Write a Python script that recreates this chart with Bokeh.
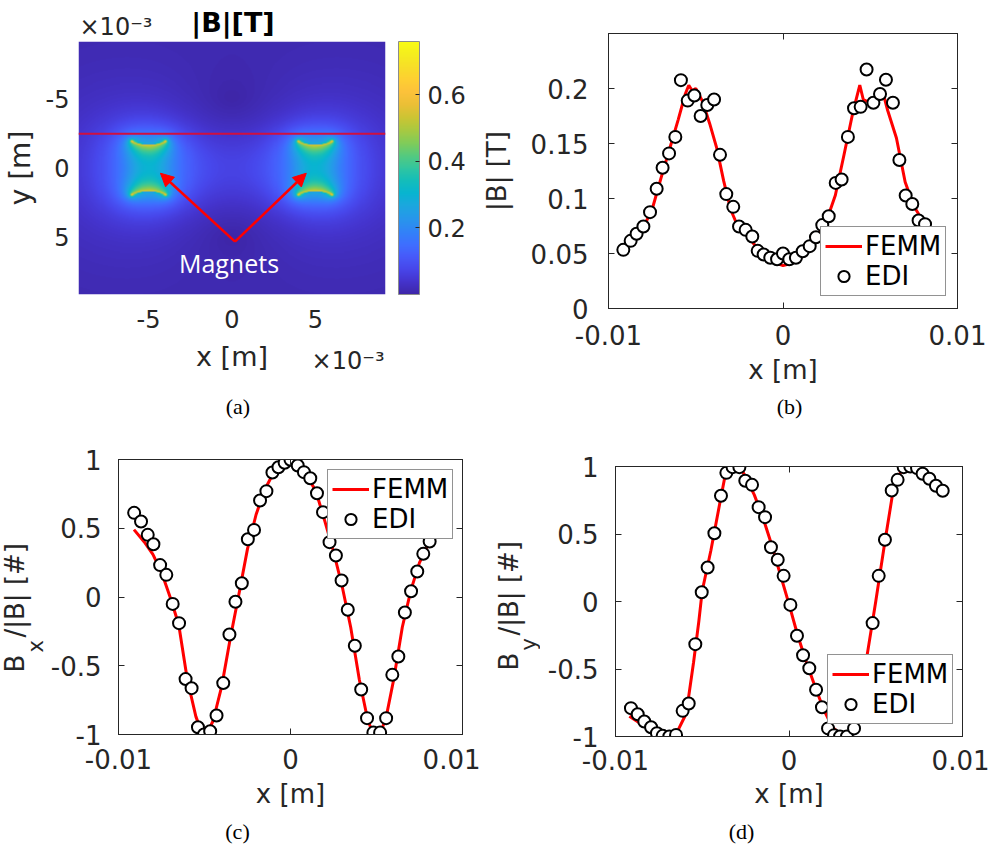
import numpy as np
from bokeh.plotting import figure
from bokeh.models import (Range1d, FixedTicker, LinearAxis, Legend, LegendItem, Label,
                          ColorBar, LinearColorMapper, Arrow, NormalHead)
from bokeh.layouts import row, column
from bokeh.embed import file_html
from bokeh.resources import INLINE
from bokeh.core.properties import value

SANS = "DejaVu Sans"
SERIF = "Liberation Serif"
INK = "#262626"
RED = "#ff0000"
BASE_SHIFT = 0.3   # the SVG text sits about 0.3 em below its anchor; compensate

# ---------------- panel (a): magnet geometry [mm] ----------------
magnet_x_start = [-6.0, 4.0]
magnet_x_end = [-4.0, 6.0]
pole_face_y = [-1.95, 1.95]
pole_face_bulge = 0.25
scan_line_y = -2.5
heat_extent = [-9.2, 9.2]
colorbar_max = 0.76
a_ticks = [-5, 0, 5]
a_tick_labels = ["-5", "0", "5"]
cbar_ticks = [0.2, 0.4, 0.6]
cbar_tick_labels = ["0.2", "0.4", "0.6"]
arrow_tail = (0.18, 5.36)
arrow_heads_x = [-4.29, 4.45]
arrow_heads_y = [0.38, 0.38]

# ---------------- panel (b): |B| [T] ----------------
b_edi_x = [-0.00915, -0.00873, -0.00839, -0.0080, -0.00762, -0.00724, -0.0069, -0.00653,
           -0.00617, -0.00585, -0.00546, -0.00508, -0.00472, -0.00434, -0.00395, -0.00361,
           -0.00325, -0.00285, -0.00252, -0.00214, -0.00176, -0.00145, -0.00111, -0.00073,
           -0.00034, 0.0, 0.00036, 0.00074, 0.00113, 0.00153, 0.00189, 0.00225, 0.00262,
           0.00302, 0.00336, 0.00372, 0.00407, 0.00445, 0.00479, 0.00518, 0.00556, 0.0059,
           0.0063, 0.00667, 0.00703, 0.00741, 0.00777, 0.00814]
b_edi_y = [0.0533, 0.0615, 0.0679, 0.0745, 0.0876, 0.1088, 0.128, 0.141, 0.156, 0.2076,
           0.189, 0.1936, 0.175, 0.185, 0.190, 0.1397, 0.104, 0.0924, 0.0745, 0.0715, 0.0655,
           0.0524, 0.0491, 0.0461, 0.0448, 0.050, 0.0448, 0.0461, 0.0521, 0.0567, 0.0648,
           0.0758, 0.0839, 0.1142, 0.1173, 0.156, 0.182, 0.1833, 0.2173, 0.187, 0.195, 0.208,
           0.187, 0.135, 0.1027, 0.095, 0.080, 0.0767]
b_femm_x = [-0.0092, -0.0085, -0.008, -0.0075, -0.007, -0.0065, -0.006, -0.0056, -0.0054,
            -0.0052, -0.005, -0.0046, -0.0042, -0.0038, -0.0034, -0.003, -0.0026, -0.002,
            -0.0015, -0.001, -0.0005, 0.0, 0.0005, 0.001, 0.0015, 0.002, 0.0025, 0.003,
            0.0035, 0.004, 0.0044, 0.0046, 0.005, 0.0055, 0.0058, 0.006, 0.0065, 0.007,
            0.0075, 0.008, 0.0088]
b_femm_y = [0.052, 0.064, 0.074, 0.09, 0.118, 0.145, 0.172, 0.195, 0.203, 0.198, 0.2,
            0.188, 0.168, 0.146, 0.116, 0.09, 0.075, 0.066, 0.055, 0.047, 0.042, 0.039,
            0.041, 0.046, 0.055, 0.066, 0.08, 0.103, 0.14, 0.178, 0.203, 0.19, 0.187, 0.195,
            0.192, 0.18, 0.155, 0.115, 0.093, 0.08, 0.068]

# ---------------- panel (c): Bx/|B| ----------------
c_edi_x = [-0.00909, -0.00869, -0.0083, -0.00797, -0.00758, -0.00722, -0.00685, -0.00648,
           -0.0061, -0.00575, -0.00538, -0.00503, -0.00467, -0.0043, -0.00391, -0.00355,
           -0.0032, -0.00283, -0.00248, -0.00212, -0.00177, -0.0014, -0.00105, -0.0007,
           -0.00034, 0.0, 0.00042, 0.00078, 0.00115, 0.00154, 0.00189, 0.00227, 0.00264,
           0.00297, 0.00333, 0.00374, 0.00411, 0.00445, 0.00482, 0.00521, 0.00556, 0.00592,
           0.00627, 0.00665, 0.00701, 0.00737, 0.00772, 0.00809, 0.00845]
c_edi_y = [0.612, 0.549, 0.452, 0.384, 0.232, 0.161, -0.05, -0.19, -0.597, -0.663, -0.947,
           -1.0, -0.976, -0.862, -0.626, -0.273, -0.035, 0.1, 0.42, 0.488, 0.702, 0.77,
           0.905, 0.944, 0.976, 0.998, 0.956, 0.908, 0.864, 0.755, 0.617, 0.399, 0.302,
           0.12, -0.093, -0.355, -0.673, -0.881, -0.986, -0.986, -0.881, -0.566, -0.433,
           -0.113, 0.042, 0.185, 0.314, 0.404, 0.49]
c_femm_x = [-0.0091, -0.0085, -0.008, -0.0075, -0.007, -0.0065, -0.006, -0.0055, -0.0052,
            -0.005, -0.0048, -0.0045, -0.004, -0.0035, -0.003, -0.0025, -0.002, -0.0015,
            -0.001, -0.0005, 0.0, 0.0005, 0.001, 0.0015, 0.002, 0.0025, 0.003, 0.0035,
            0.004, 0.0045, 0.0048, 0.005, 0.0053, 0.0056, 0.006, 0.0065, 0.007, 0.0075,
            0.008, 0.0085, 0.009]
c_femm_y = [0.49, 0.40, 0.31, 0.18, 0.0, -0.2, -0.6, -0.87, -0.97, -1.0, -0.98, -0.9, -0.65,
            -0.3, 0.02, 0.35, 0.6, 0.78, 0.9, 0.97, 1.0, 0.96, 0.88, 0.76, 0.55, 0.33, 0.08,
            -0.22, -0.6, -0.9, -0.99, -1.0, -0.97, -0.85, -0.6, -0.22, 0.05, 0.25, 0.38,
            0.5, 0.58]

# ---------------- panel (d): By/|B| ----------------
d_edi_x = [-0.00911, -0.00872, -0.00834, -0.00795, -0.00761, -0.00728, -0.0069, -0.00651,
           -0.00613, -0.00578, -0.0054, -0.00503, -0.00469, -0.0043, -0.00392, -0.00361,
           -0.00325, -0.00286, -0.00252, -0.00213, -0.00175, -0.00138, -0.00104, -0.00065,
           -0.00031, 0.00008, 0.00046, 0.00081, 0.00117, 0.00156, 0.0019, 0.00225, 0.0026,
           0.00294, 0.00334, 0.00375, 0.0041, 0.00444, 0.00482, 0.00517, 0.00553, 0.00592,
           0.00626, 0.00661, 0.00699, 0.00738, 0.0077, 0.00809, 0.00847, 0.00886]
d_edi_y = [-0.79, -0.835, -0.889, -0.931, -0.975, -0.995, -1.0, -0.988, -0.81, -0.756,
           -0.316, 0.069, 0.252, 0.506, 0.783, 0.953, 0.995, 0.995, 0.894, 0.864, 0.699,
           0.625, 0.402, 0.309, 0.19, -0.025, -0.254, -0.398, -0.494, -0.654, -0.783, -0.94,
           -0.99, -1.0, -1.0, -0.94, -0.72, -0.457, -0.16, 0.19, 0.457, 0.822, 0.901, 0.995,
           1.0, 0.988, 0.946, 0.909, 0.857, 0.82]
d_femm_x = [-0.0092, -0.0085, -0.008, -0.0075, -0.007, -0.0065, -0.006, -0.0058, -0.0055,
            -0.0052, -0.005, -0.0045, -0.004, -0.0037, -0.0034, -0.003, -0.0027, -0.0025,
            -0.002, -0.0015, -0.001, -0.0005, 0.0, 0.0005, 0.001, 0.0015, 0.002, 0.0025,
            0.003, 0.0033, 0.0036, 0.004, 0.0043, 0.0045, 0.005, 0.0055, 0.006, 0.0063,
            0.0066, 0.007, 0.0075, 0.008, 0.0085, 0.009]
d_femm_y = [-0.85, -0.91, -0.95, -0.99, -1.0, -0.98, -0.85, -0.72, -0.45, -0.15, 0.08, 0.38,
            0.72, 0.92, 0.99, 1.0, 0.97, 0.92, 0.79, 0.62, 0.42, 0.2, -0.02, -0.25, -0.45,
            -0.63, -0.8, -0.93, -0.99, -1.0, -0.97, -0.8, -0.55, -0.4, 0.0, 0.42, 0.82, 0.93,
            0.99, 1.0, 0.97, 0.92, 0.87, 0.81]

# ---------------- shared ticks ----------------
x_ticks = [-0.01, 0.0, 0.01]
x_tick_labels = ["-0.01", "0", "0.01"]
b_y_ticks = [0.0, 0.05, 0.1, 0.15, 0.2]
b_y_tick_labels = ["0", "0.05", "0.1", "0.15", "0.2"]
n_y_ticks = [-1.0, -0.5, 0.0, 0.5, 1.0]
n_y_tick_labels = ["-1", "-0.5", "0", "0.5", "1"]

# ---------------- parula-like palette ----------------
parula_rgb = np.array([
    [0.2422, 0.1504, 0.6603], [0.2681, 0.2036, 0.8052], [0.2803, 0.2782, 0.9221],
    [0.2760, 0.3580, 0.9810], [0.2440, 0.4358, 0.9988], [0.1950, 0.5140, 0.9700],
    [0.1540, 0.5902, 0.9218], [0.1100, 0.6540, 0.8750], [0.0297, 0.7082, 0.8163],
    [0.0800, 0.7440, 0.7250], [0.1938, 0.7758, 0.6251], [0.3300, 0.7900, 0.5000],
    [0.5044, 0.7993, 0.3480], [0.6600, 0.7880, 0.2550], [0.8000, 0.7700, 0.2000],
    [0.9200, 0.7500, 0.2100], [0.9892, 0.7600, 0.2300], [0.9950, 0.8100, 0.2000],
    [0.9700, 0.8700, 0.1600], [0.9600, 0.9300, 0.1200], [0.9769, 0.9839, 0.0805]])
parula_pos = np.linspace(0, 1, len(parula_rgb))
_t = np.linspace(0, 1, 256)
palette = ["#%02x%02x%02x" % tuple(int(round(255 * np.interp(ti, parula_pos, parula_rgb[:, c])))
                                   for c in range(3)) for ti in _t]

# ---------------- field map for panel (a) (magnetic pole-sheet model) ----------------
gx = np.linspace(heat_extent[0], heat_extent[1], 300)
gy = np.linspace(heat_extent[0], heat_extent[1], 250)
X, Y = np.meshgrid(gx, gy)
Hx = np.zeros_like(X)
Hy = np.zeros_like(X)
inside = np.zeros_like(X)
dmin = np.full_like(X, 99.0)
sigma, eps, k_in, k_line, soft = 0.80, 0.05, 0.03, 0.17, 0.3
for x0, x1 in zip(magnet_x_start, magnet_x_end):
    s = np.linspace(x0, x1, 81)
    ds = s[1] - s[0]
    u = (s - 0.5 * (x0 + x1)) / (0.5 * (x1 - x0))
    for fy, sgn in ((pole_face_y[0], -1.0), (pole_face_y[1], 1.0)):
        sy = fy - sgn * pole_face_bulge * (1 - u ** 2)
        for sxi, syi in zip(s, sy):
            dx = X - sxi
            dy = Y - syi
            r2 = dx * dx + dy * dy + eps * eps
            Hx += sgn * sigma * ds * dx / r2 / (2 * np.pi)
            Hy += sgn * sigma * ds * dy / r2 / (2 * np.pi)
            dmin = np.minimum(dmin, np.sqrt(dx * dx + dy * dy))
    inside += (1 / (1 + np.exp(-(X - x0) / soft))) * (1 / (1 + np.exp((X - x1) / soft))) * \
              (1 / (1 + np.exp(-(Y - pole_face_y[0]) / soft))) * \
              (1 / (1 + np.exp((Y - pole_face_y[1]) / soft)))
Bmag = np.hypot(Hx, Hy) + k_in * inside + k_line * np.exp(-(dmin / 0.09) ** 2)
Bmag = np.clip(Bmag, 0, colorbar_max)


def fixed_axis(ax, ticks, labels, size, standoff, tick_color=INK, line_color=INK):
    ax.ticker = FixedTicker(ticks=ticks)
    ax.major_label_overrides = {t: l for t, l in zip(ticks, labels)}
    ax.major_label_text_font = SANS
    ax.major_label_text_font_size = size
    ax.major_label_text_color = INK
    ax.major_tick_in = 6
    ax.major_tick_out = 0
    ax.minor_tick_line_color = None
    ax.major_tick_line_color = tick_color
    ax.axis_line_color = line_color
    ax.major_label_standoff = standoff
    ax.axis_label_text_font = SANS
    ax.axis_label_text_font_style = "normal"
    ax.axis_label_text_color = INK


def hidden_axis(ticks):
    return LinearAxis(ticker=FixedTicker(ticks=ticks), major_label_text_font_size="0px",
                      major_label_text_alpha=0, major_tick_in=6, major_tick_out=0,
                      minor_tick_line_color=None, axis_line_color=INK,
                      major_tick_line_color=INK, major_label_standoff=0)


def strip(width, height, left=0, right=0, top=0, bottom=0):
    """Blank text strip; data units are pixels (x from the left, y from the bottom)."""
    p = figure(width=width, height=height, x_range=Range1d(left, width - right),
               y_range=Range1d(bottom, height - top), min_border_left=left,
               min_border_right=right, min_border_top=top, min_border_bottom=bottom,
               x_axis_type=None, y_axis_type=None, toolbar_location=None,
               output_backend="svg", title=None)
    p.outline_line_color = None
    p.background_fill_color = "white"
    p.border_fill_color = "white"
    return p


def put_text(p, x, y_from_top, text, px, font=SANS, align="center", rotated=False,
             style="normal", color=INK):
    """Place text so that its alphabetic baseline lands at (x, y_from_top)."""
    shift = BASE_SHIFT * px
    if rotated:
        xx, yy, ang = x - shift, p.height - y_from_top, np.pi / 2
    else:
        xx, yy, ang = x, p.height - y_from_top + shift, 0.0
    p.text(x=[xx], y=[yy], text=[text], angle=ang, text_font=value(font),
           text_font_size=f"{px}px", text_font_style=style, text_color=color,
           text_align=align, text_baseline="alphabetic")


def line_panel(width, height, left, right, top, bottom, yr, yticks, ylabels, xstand, lstand):
    p = figure(width=width, height=height, x_range=Range1d(-0.01, 0.01), y_range=Range1d(*yr),
               min_border_left=left, min_border_right=right, min_border_top=top,
               min_border_bottom=bottom, toolbar_location=None, output_backend="svg",
               title=None)
    p.grid.visible = False
    p.outline_line_color = INK
    p.outline_line_width = 1
    p.background_fill_color = "white"
    p.border_fill_color = "white"
    fixed_axis(p.xaxis[0], x_ticks, x_tick_labels, "26px", xstand)
    fixed_axis(p.yaxis[0], yticks, ylabels, "26px", 17)
    p.xaxis[0].axis_label = "x [m]"
    p.xaxis[0].axis_label_text_font_size = "26px"
    p.xaxis[0].axis_label_standoff = lstand
    p.add_layout(hidden_axis(x_ticks), "above")
    p.add_layout(hidden_axis(yticks), "right")
    return p


def add_series(p, fx, fy, ex, ey, loc):
    rl = p.line(fx, fy, line_color=RED, line_width=3)
    rs = p.scatter(ex, ey, marker="circle", size=12, fill_color="white", line_color="black",
                   line_width=2)
    leg = Legend(items=[LegendItem(label="FEMM", renderers=[rl]),
                        LegendItem(label="EDI", renderers=[rs])],
                 location=loc, label_text_font=SANS, label_text_font_size="26px",
                 label_text_color="black", glyph_width=37, glyph_height=28, label_height=28,
                 spacing=0, padding=4, margin=0, label_standoff=3, border_line_color=INK,
                 border_line_width=1, background_fill_color="white", background_fill_alpha=1)
    p.add_layout(leg)


# ================= panel (a) =================
a_top = strip(470, 41, left=77, right=85)
put_text(a_top, 78, 34, "×10⁻³", 24, align="left")
put_text(a_top, 232, 30, "|B|[T]", 27, style="bold", color="black")

pa = figure(width=470, height=297, x_range=Range1d(*heat_extent),
            y_range=Range1d(heat_extent[1], heat_extent[0]),
            min_border_left=77, min_border_right=85, min_border_top=0, min_border_bottom=44,
            toolbar_location=None, output_backend="svg", title=None)
pa.grid.visible = False
pa.outline_line_color = None
pa.border_fill_color = "white"
mapper = LinearColorMapper(palette=palette, low=0, high=colorbar_max)
pa.image(image=[Bmag], x=heat_extent[0], y=heat_extent[0], dw=heat_extent[1] - heat_extent[0],
         dh=heat_extent[1] - heat_extent[0], color_mapper=mapper)
pa.line([heat_extent[0], heat_extent[1]], [scan_line_y, scan_line_y], line_color="#d0103f",
        line_width=2)
for hx, hy in zip(arrow_heads_x, arrow_heads_y):
    pa.add_layout(Arrow(end=NormalHead(size=13, fill_color=RED, line_color=RED),
                        x_start=arrow_tail[0], y_start=arrow_tail[1], x_end=hx, y_end=hy,
                        line_color=RED, line_width=2.5))
pa.add_layout(Label(x=-0.18, y=6.92, text="Magnets", text_color="white", text_font="Open Sans",
                    text_font_size="25px", text_align="center", text_baseline="alphabetic"))
fixed_axis(pa.xaxis[0], a_ticks, a_tick_labels, "24px", 15, tick_color=None, line_color=None)
fixed_axis(pa.yaxis[0], a_ticks, a_tick_labels, "24px", 9, tick_color=None, line_color=None)
pa.yaxis[0].axis_label = "y [m]"
pa.yaxis[0].axis_label_text_font_size = "28px"
pa.yaxis[0].axis_label_standoff = 6
cbar = ColorBar(color_mapper=mapper, ticker=FixedTicker(ticks=cbar_ticks),
                major_label_overrides={t: l for t, l in zip(cbar_ticks, cbar_tick_labels)},
                location=(320, 0), width=21, height=253, padding=0, margin=0,
                major_label_text_font=SANS, major_label_text_font_size="24px",
                major_label_text_color=INK, label_standoff=8, major_tick_in=4,
                major_tick_line_color=INK, bar_line_color="#8c8c8c",
                border_line_color=None, background_fill_alpha=0)
pa.add_layout(cbar)

a_bot = strip(470, 92, left=77, right=85)
put_text(a_bot, 231, 26, "x [m]", 27)
put_text(a_bot, 384, 30, "×10⁻³", 24, align="right")
put_text(a_bot, 237, 75, "(a)", 22, font=SERIF, color="black")

# ================= panel (b) =================
pb = line_panel(519, 392, 138, 32, 33, 84, (0, 0.25), b_y_ticks, b_y_tick_labels, 16, 7)
pb.yaxis[0].axis_label = "|B| [T]"
pb.yaxis[0].axis_label_text_font_size = "26px"
pb.yaxis[0].axis_label_standoff = 16
fixed_axis(pb.yaxis[0], b_y_ticks, b_y_tick_labels, "26px", 20)
add_series(pb, b_femm_x, b_femm_y, b_edi_x, b_edi_y, (212, 12))
b_bot = strip(519, 38, left=138, right=32)
put_text(b_bot, 319, 21, "(b)", 22, font=SERIF, color="black")

# ================= panel (c) =================
c_lab = strip(47, 386, top=29, bottom=82)
put_text(c_lab, 22, 242, "B", 26, align="left", rotated=True)
put_text(c_lab, 42, 222, "x", 21, align="left", rotated=True)
put_text(c_lab, 22, 207, "/|B| [#]", 26, align="left", rotated=True)
pc = line_panel(433, 386, 70, 18, 29, 82, (-1, 1), n_y_ticks, n_y_tick_labels, 14, 7)
add_series(pc, c_femm_x, c_femm_y, c_edi_x, c_edi_y, (209, 195))

# ================= panel (d) =================
d_lab = strip(60, 386, top=36, bottom=80)
put_text(d_lab, 36, 240, "B", 26, align="left", rotated=True)
put_text(d_lab, 55, 220, "y", 21, align="left", rotated=True)
put_text(d_lab, 36, 205, "/|B| [#]", 26, align="left", rotated=True)
pd_ = line_panel(449, 386, 75, 27, 36, 80, (-1, 1), n_y_ticks, n_y_tick_labels, 13, 6)
add_series(pd_, d_femm_x, d_femm_y, d_edi_x, d_edi_y, (212, 12))

cap_cd = strip(989, 35)
put_text(cap_cd, 237, 22, "(c)", 22, font=SERIF, color="black")
put_text(cap_cd, 741, 22, "(d)", 22, font=SERIF, color="black")

top = row(column(a_top, pa, a_bot), column(pb, b_bot))
bottom = column(row(column(c_lab), column(pc), column(d_lab), column(pd_)), cap_cd)
layout = column(top, bottom)
open("out.html", "w").write(file_html(layout, INLINE))
